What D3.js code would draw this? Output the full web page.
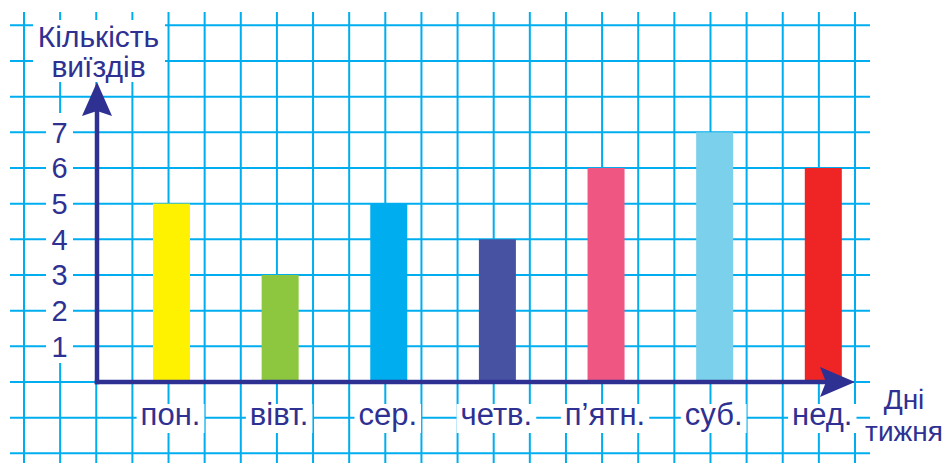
<!DOCTYPE html>
<html>
<head>
<meta charset="utf-8">
<script src="https://cdn.jsdelivr.net/npm/d3@7"></script>
<style>
  body { margin: 0; background: #fff; }
  text { font-family: "Liberation Sans", Arial, sans-serif; fill: #2e3192; }
</style>
</head>
<body>
<div id="chart"></div>
<script>
var days = ["пон.", "вівт.", "сер.", "четв.", "п’ятн.", "суб.", "нед."];
var trips = [5, 3, 5, 4, 6, 7, 6];
var barColors = ["#fff200", "#8dc63f", "#00aeef", "#4753a2", "#ef5682", "#7bd0eb", "#ee2524"];
var yTicks = [1, 2, 3, 4, 5, 6, 7];
var yTitle = ["Кількість", "виїздів"];
var xTitle = ["Дні", "тижня"];

var width = 948, height = 463;
var ink = "#2e3192", gridColor = "#00aeef";

// one grid cell = one unit on y, three cells between days
var y = d3.scaleLinear().domain([0, 7]).range([382, 132.3]);
var gx = d3.scaleLinear().domain([0, 23]).range([24, 855]);
var x = d3.scalePoint().domain(days).range([171.5, 823.3]);
var barWidth = 37;

var svg = d3.select("#chart").append("svg")
    .attr("width", width)
    .attr("height", height);

svg.append("rect").attr("width", width).attr("height", height).attr("fill", "#fff");

// grid
var grid = svg.append("g").attr("class", "grid")
    .attr("stroke", gridColor)
    .attr("stroke-width", 2);
grid.selectAll("line.v").data(d3.range(0, 24)).enter()
    .append("line")
    .attr("class", "v")
    .attr("x1", function(d) { return gx(d); })
    .attr("x2", function(d) { return gx(d); })
    .attr("y1", 12)
    .attr("y2", height);
grid.selectAll("line.h").data(d3.range(-2, 11)).enter()
    .append("line")
    .attr("class", "h")
    .attr("x1", 10)
    .attr("x2", 870)
    .attr("y1", function(d) { return y(d); })
    .attr("y2", function(d) { return y(d); });

// white patches behind the labels
svg.append("rect")
    .attr("x", 33).attr("y", 20)
    .attr("width", 132).attr("height", 62)
    .attr("fill", "#fff");
svg.append("rect")
    .attr("x", 46).attr("y", 113)
    .attr("width", 27).attr("height", 250)
    .attr("fill", "#fff");

// bars
svg.append("g").attr("class", "bars")
  .selectAll("rect").data(trips).enter()
    .append("rect")
    .attr("x", function(d, i) { return x(days[i]) - barWidth / 2; })
    .attr("y", function(d) { return y(d); })
    .attr("width", barWidth)
    .attr("height", function(d) { return y(0) - y(d); })
    .attr("fill", function(d, i) { return barColors[i]; });

// axes with arrows
var axes = svg.append("g").attr("class", "axes");
axes.append("line")
    .attr("x1", 97).attr("x2", 97)
    .attr("y1", y(0) + 2.3).attr("y2", 110)
    .attr("stroke", ink).attr("stroke-width", 4.5);
axes.append("line")
    .attr("x1", 94.8).attr("x2", 828)
    .attr("y1", y(0)).attr("y2", y(0))
    .attr("stroke", ink).attr("stroke-width", 4.5);
axes.append("path")
    .attr("d", "M97,82 L112,116 L97,111 L82,116 Z")
    .attr("fill", ink);
axes.append("path")
    .attr("d", "M855," + y(0) + " L820," + (y(0) - 15) + " L826," + y(0) + " L820," + (y(0) + 15) + " Z")
    .attr("fill", ink);

// y tick labels
svg.append("g").attr("class", "y labels")
  .selectAll("text").data(yTicks).enter()
    .append("text")
    .attr("x", 59.5)
    .attr("y", function(d) { return y(d) + 10.5; })
    .attr("text-anchor", "middle")
    .style("font-size", "29px")
    .text(function(d) { return d; });

// day labels with white boxes
var dayG = svg.append("g").attr("class", "x labels");
var dayText = dayG.selectAll("text").data(days).enter()
    .append("text")
    .attr("x", function(d) { return x(d) - 1; })
    .attr("y", 425)
    .attr("text-anchor", "middle")
    .style("font-size", "31px")
    .text(function(d) { return d; });
dayText.each(function() {
  var b = this.getBBox();
  dayG.insert("rect", "text")
      .attr("x", b.x - 4).attr("y", 404)
      .attr("width", b.width + 8).attr("height", 29)
      .attr("fill", "#fff");
});

// axis titles
svg.append("g").selectAll("text").data(yTitle).enter()
    .append("text")
    .attr("x", 98.5)
    .attr("y", function(d, i) { return 46.5 + i * 30; })
    .attr("text-anchor", "middle")
    .style("font-size", "30px")
    .text(function(d) { return d; });
svg.append("g").selectAll("text").data(xTitle).enter()
    .append("text")
    .attr("x", 904)
    .attr("y", function(d, i) { return 409 + i * 32; })
    .attr("text-anchor", "middle")
    .style("font-size", "28px")
    .text(function(d) { return d; });
</script>
</body>
</html>
